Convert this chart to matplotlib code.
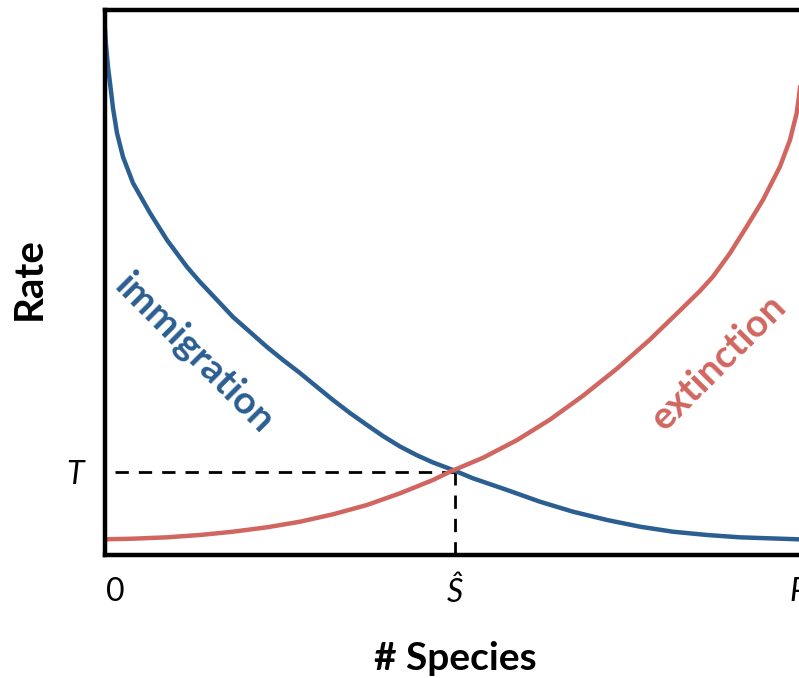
import matplotlib
matplotlib.use("Agg")
import matplotlib.pyplot as plt

# ---- data ----
imm_x = [0.0, 0.185, 0.47, 0.755, 1.18, 1.75, 2.61, 4.03, 6.45, 8.87, 11.72, 13.57,
         15.99, 18.27, 20.69, 23.11, 25.39, 27.81, 30.23, 32.51, 34.93, 37.35, 39.63,
         42.05, 44.47, 46.75, 49.60, 52.44, 57.29, 61.98, 66.68, 71.52, 76.22, 80.91,
         85.76, 90.45, 98.72, 100.0]
imm_y = [97.16, 93.49, 89.46, 86.53, 81.94, 77.36, 72.96, 68.19, 62.70, 57.74, 52.80,
         50.05, 46.75, 43.63, 40.88, 38.13, 35.75, 33.36, 30.80, 28.41, 26.03, 23.83,
         21.81, 19.89, 18.28, 16.96, 15.58, 14.06, 11.92, 9.77, 7.94, 6.42, 5.19, 4.27,
         3.67, 3.24, 2.88, 2.84]

ext_x = [0.0, 4.03, 8.87, 13.57, 18.27, 23.11, 27.81, 32.51, 37.35, 42.05, 46.75,
         49.17, 53.87, 58.71, 63.41, 68.10, 72.95, 77.64, 82.34, 84.76, 86.61, 89.03,
         91.41, 93.73, 96.15, 97.58, 98.53, 98.86, 100.0]
ext_y = [2.88, 2.99, 3.24, 3.67, 4.27, 5.08, 6.10, 7.46, 9.17, 11.31, 13.75,
         15.27, 17.82, 21.06, 24.82, 29.18, 34.17, 39.49, 45.35, 48.40, 51.02, 55.31,
         60.18, 65.08, 71.18, 76.08, 80.97, 84.02, 96.6]

S_hat = 49.92
T_rate = 15.3
P_val = 100.0

xtick_labels = ["0", "Ŝ", "P"]
ytick_label = "T"
ylabel_text = "Rate"
xlabel_text = "# Species"

BLUE = "#2B5E91"
RED = "#D0665F"
FONT = "Lato"

W, H = 799, 678
fig = plt.figure(figsize=(W / 100, H / 100), dpi=100)

left_px, top_px, bottom_px, right_px = 104.7, 9.5, 555.0, 821.0
ax = fig.add_axes([left_px / W, (H - bottom_px) / H,
                   (right_px - left_px) / W, (bottom_px - top_px) / H])
ax.set_xlim(0, 102)
ax.set_ylim(0, 100)

ax.plot(imm_x, imm_y, color=BLUE, lw=3.2, solid_joinstyle="round", zorder=2)
ax.plot(ext_x, ext_y, color=RED, lw=3.2, solid_joinstyle="round", zorder=2)

# dashed guide lines
plt.rcParams["lines.scale_dashes"] = False
ax.plot([1.5, S_hat], [T_rate, T_rate], color="black", lw=2.0,
        dashes=(9.6, 7.2), zorder=1.5)
ax.plot([S_hat, S_hat], [0, T_rate], color="black", lw=2.0,
        dashes=(9.6, 7.2), zorder=1.5)

for side in ["left", "top", "bottom"]:
    ax.spines[side].set_linewidth(3.2)
    ax.spines[side].set_color("black")
ax.spines["right"].set_visible(False)
ax.set_xticks([])
ax.set_yticks([])

# tick-like labels
ax.annotate(xtick_labels[0], xy=(0, 0), xytext=(11, -37), textcoords="offset pixels",
            ha="center", va="center", fontsize=23, family=FONT)
ax.annotate(xtick_labels[1], xy=(S_hat, 0), xytext=(0, -38), textcoords="offset pixels",
            ha="center", va="center", fontsize=23, family=FONT, style="italic")
ax.annotate(xtick_labels[2], xy=(P_val, 0), xytext=(-9, -37), textcoords="offset pixels",
            ha="center", va="center", fontsize=23, family=FONT, style="italic")
ax.annotate(ytick_label, xy=(0, T_rate), xytext=(-30, -3), textcoords="offset pixels",
            ha="center", va="center", fontsize=23, family=FONT, style="italic")

# curve labels
fig.text(194 / W, 1 - 353 / H, "immigration", rotation=-45, rotation_mode="anchor",
         ha="center", va="center", color=BLUE, fontsize=28, fontweight="bold", family=FONT)
fig.text(718 / W, 1 - 362 / H, "extinction", rotation=45, rotation_mode="anchor",
         ha="center", va="center", color=RED, fontsize=28, fontweight="bold", family=FONT)

fig.text(455 / W, 1 - 659 / H, xlabel_text, ha="center", va="center",
         fontsize=28, fontweight="bold", family=FONT)
fig.text(29 / W, 1 - 279 / H, ylabel_text, rotation=90, ha="center", va="center",
         fontsize=29, fontweight="bold", family=FONT)

fig.savefig("out.png", dpi=100)
